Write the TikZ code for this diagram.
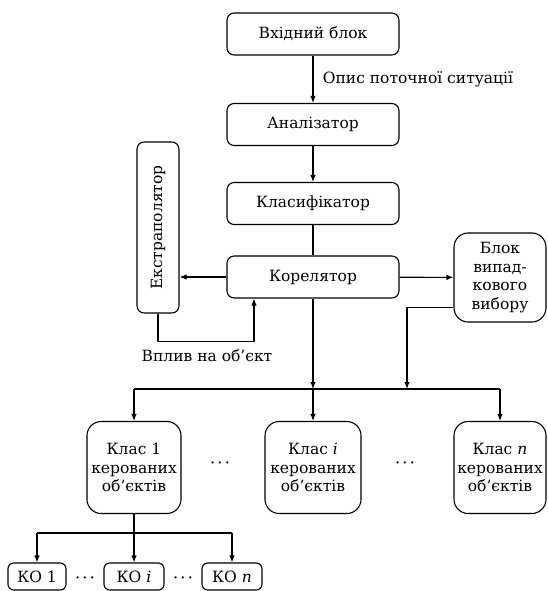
\documentclass[tikz,border=0pt]{standalone}
\usepackage{fontspec}
\setmainfont{DejaVu Serif}
\usetikzlibrary{arrows.meta, positioning, calc}

\begin{document}
\begin{tikzpicture}[x=1pt, y=1pt,
  blk/.style={draw, rounded corners=2.5mm, align=center, inner sep=1pt,
              minimum width=172pt, minimum height=42pt, line width=1.1pt,
              font=\fontsize{15.5}{18.7}\selectfont},
  big/.style={blk, rounded corners=5mm, minimum width=94pt, minimum height=92pt},
  ko/.style={blk, rounded corners=2mm, minimum width=59pt, minimum height=27pt},
  lbl/.style={font=\fontsize{15.5}{18.7}\selectfont},
  dts/.style={font=\fontsize{14}{16}\selectfont\boldmath},
  arr/.style={-{Latex[length=7pt, width=5.5pt]}, line width=1.1pt},
  ln/.style={line width=1.1pt}
]
\useasboundingbox (0,0) rectangle (547,-591);

% upper chain
\node[blk] (vkhid) at (313,-34) {Вхідний блок};
\node[blk] (analiz) at (313,-124.5) {Аналізатор};
\node[blk] (klasyf) at (313,-203.5) {Класифікатор};
\node[blk] (korel) at (313,-277) {Корелятор};
\node[blk, rotate=90, minimum width=171pt, minimum height=42pt] (ekstr) at (158,-227.5) {Екстраполятор};
\node[big, minimum width=92pt, minimum height=89pt] (vybir) at (500,-277.5) {Блок\\випад-\\кового\\вибору};

\draw[arr] (vkhid) -- node[lbl, right, xshift=6pt]{Опис поточної ситуації} (analiz);
\draw[arr] (analiz) -- (klasyf);
\draw[ln] (klasyf) -- (korel);
\draw[arr] (korel.west) -- (ekstr.south |- korel.west);
\draw[arr] (korel) -- (vybir);
\draw[arr] (ekstr.west) -- ++(0,-28) coordinate (vplyv) -| ([xshift=-59pt]korel.south);
\node[lbl] (vplyvtxt) at (207,-356) {Вплив на об’єкт};

% classes
\coordinate (bus) at (313,-389);
\node[big] (klas1) at (134,-467.5) {Клас 1\\керованих\\об’єктів};
\node[big, minimum width=96pt] (klasi) at (313,-467.5) {Клас \textit{i}\\керованих\\об’єктів};
\node[big, minimum width=92pt] (klasn) at (500,-467.5) {Клас \textit{n}\\керованих\\об’єктів};
\node[dts] (dots1) at (220,-463) {$\cdots$};
\node[dts] (dots2) at (405,-463) {$\cdots$};

\draw[arr] (korel) -- (bus);
\draw[arr] ([yshift=-30pt]vybir.west) -| (407,-389) coordinate (bus2);
\draw[ln] (klas1.north |- bus) -- (klasn.north |- bus);
\draw[arr] (bus) -- (klasi);
\draw[arr] (klas1.north |- bus) -- (klas1);
\draw[arr] (klasn.north |- bus) -- (klasn);

% objects of class 1
\coordinate (sub) at (134,-533);
\node[ko, minimum width=58pt] (ko1) at (37,-576.5) {КО 1};
\node[ko, minimum width=60pt] (koi) at (134,-576.5) {КО \textit{i}};
\node[ko, minimum width=60pt] (kon) at (232,-576.5) {КО \textit{n}};
\node[dts] (dots3) at (85,-578) {$\cdots$};
\node[dts] (dots4) at (183,-578) {$\cdots$};

\draw[ln] (klas1) -- (sub);
\draw[ln] (ko1.north |- sub) -- (kon.north |- sub);
\draw[arr] (sub) -- (koi);
\draw[arr] (ko1.north |- sub) -- (ko1);
\draw[arr] (kon.north |- sub) -- (kon);
\end{tikzpicture}
\end{document}
